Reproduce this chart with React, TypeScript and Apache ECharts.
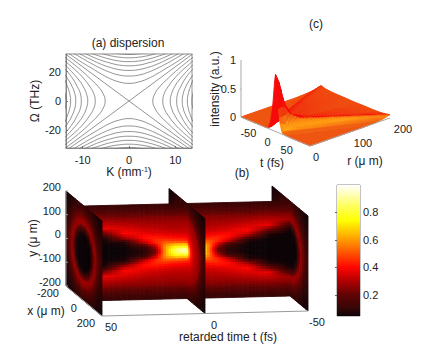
import React, { useEffect, useRef } from "react";
import * as echarts from "echarts";

const FONT = "'Liberation Sans', Arial, sans-serif";
const INK = "#222";

// ---- panel (a): dispersion contours
const kSamples = [0, 2, 4, 6, 8, 10, 12, 14];
const omegaBranches = [
  [12, 12.9, 15.1, 18.4, 22.2, 26.0, 30.2, 34.8],
  [17, 17.6, 19.4, 22.1, 25.3, 28.9, 32.6, 36.7],
  [20.8, 21.3, 22.8, 25.0, 27.9, 31.1, 34.6, 38.2],
  [24, 24.4, 25.8, 27.7, 30.2, 33.2, 36.4, 40],
  [26.8, 27.2, 28.4, 30.2, 32.4, 35.3, 38.6, 42],
  [29.4, 29.8, 30.8, 32.5, 34.6, 37.2, 40.4, 44],
  [31.7, 32.1, 33, 34.5, 36.6, 39, 42, 45],
];
const omegaSamples = [0, 5, 10, 15, 20, 25, 30, 35];
const kBranches = [
  [5.15, 5.6, 6.7, 8.3, 10.0, 11.9, 13.9, 15.9],
  [7.3, 7.6, 8.5, 9.7, 11.2, 13, 14.8, 16.7],
  [8.9, 9.2, 9.9, 11, 12.4, 13.9, 15.6, 17.4],
  [10.3, 10.5, 11.2, 12.1, 13.3, 14.8, 16.4, 18],
  [11.5, 11.7, 12.3, 13.2, 14.4, 15.8, 17.2, 18.7],
  [12.6, 12.8, 13.3, 14, 15.3, 16.6, 18, 19.4],
  [13.6, 13.8, 14.3, 15, 16.1, 17.4, 18.7, 20],
];
const separatrixEnd = [14, 32.6];
const aKTicks = [-10, 0, 10];
const aOmegaTicks = [-20, 0, 20];

// ---- panel (c): intensity along the cone r = coneSlope·|t|
// rows: distance s along the ridge; columns: offset q across it.
const coneSlope = 2.22;
const cS = [0, 5, 10, 20, 40, 70, 100, 150, 200];
const cQ = [-60, -30, -15, -8, 0, 8, 15, 30, 60, 100, 150, 200];
const cZ = [
  [1, 1, 1, 1, 1, 1, 1, 1, 1, 1, 1, 1],
  [0.3, 0.3, 0.55, 0.72, 0.82, 0.82, 0.78, 0.7, 0.6, 0.5, 0.4, 0.3],
  [0.1, 0.2, 0.38, 0.5, 0.55, 0.54, 0.52, 0.42, 0.3, 0.22, 0.18, 0.14],
  [0, 0.03, 0.12, 0.22, 0.32, 0.3, 0.27, 0.22, 0.15, 0.1, 0.08, 0.06],
  [0, 0.02, 0.07, 0.12, 0.19, 0.18, 0.16, 0.12, 0.09, 0.06, 0.04, 0.03],
  [0, 0.02, 0.07, 0.11, 0.16, 0.15, 0.14, 0.1, 0.07, 0.05, 0.03, 0.02],
  [0, 0.02, 0.06, 0.1, 0.14, 0.13, 0.11, 0.08, 0.055, 0.04, 0.025, 0.015],
  [0, 0.015, 0.045, 0.07, 0.1, 0.09, 0.075, 0.05, 0.03, 0.02, 0.015, 0.01],
  [0, 0.01, 0.025, 0.04, 0.06, 0.05, 0.04, 0.025, 0.015, 0.01, 0.01, 0.01],
];
const cZTicks = [0, 0.5, 1];
const cTTicks = [-50, 0, 50];
const cRTicks = [0, 100, 200];

// ---- panel (b): field V(|t|, r)
const bT = [0, 5, 10, 15, 20, 30, 40, 50];
const bR = [0, 20, 40, 60, 80, 100, 120, 140, 160, 180, 200, 220, 240, 260, 290];
const bV = [
  [1.0, 0.74, 0.46, 0.38, 0.33, 0.3, 0.28, 0.25, 0.19, 0.14, 0.1, 0.085, 0.07, 0.06, 0.05],
  [0.9, 0.74, 0.48, 0.39, 0.33, 0.3, 0.28, 0.25, 0.19, 0.14, 0.1, 0.085, 0.07, 0.06, 0.05],
  [0.62, 0.62, 0.5, 0.4, 0.34, 0.3, 0.28, 0.25, 0.19, 0.14, 0.1, 0.085, 0.07, 0.06, 0.05],
  [0.2, 0.32, 0.46, 0.42, 0.35, 0.31, 0.28, 0.25, 0.19, 0.14, 0.1, 0.085, 0.07, 0.06, 0.05],
  [0.08, 0.12, 0.36, 0.42, 0.36, 0.32, 0.28, 0.25, 0.19, 0.14, 0.1, 0.085, 0.07, 0.06, 0.05],
  [0.05, 0.05, 0.08, 0.3, 0.4, 0.35, 0.3, 0.25, 0.19, 0.14, 0.1, 0.085, 0.07, 0.06, 0.05],
  [0.04, 0.04, 0.05, 0.07, 0.22, 0.37, 0.32, 0.26, 0.2, 0.14, 0.1, 0.085, 0.07, 0.06, 0.05],
  [0.04, 0.04, 0.04, 0.045, 0.06, 0.15, 0.28, 0.25, 0.19, 0.14, 0.1, 0.085, 0.07, 0.06, 0.05],
];
const bSliceTimes = [50, 0, -50];
const bYTicks = [200, 100, 0, -100, -200];
const bXTicks = [-200, 0, 200];
const bTTicks = [50, 0, -50];

// ---- colour bar
const barTicks = [0.2, 0.4, 0.6, 0.8];
const hotStops: [number, number[]][] = [
  [0.046, [12, 5, 8]],
  [0.1, [52, 6, 6]],
  [0.2, [96, 4, 4]],
  [0.3, [176, 0, 0]],
  [0.4, [255, 5, 0]],
  [0.5, [255, 80, 0]],
  [0.6, [255, 154, 0]],
  [0.74, [255, 255, 0]],
  [0.85, [255, 255, 96]],
  [1, [255, 255, 255]],
];
const surfaceStops: [number, number[]][] = [
  [-1, [246, 10, 10]],
  [0, [238, 86, 18]],
  [0.6, [255, 150, 16]],
  [1, [255, 180, 20]],
];

function ramp(stops: [number, number[]][], v: number) {
  if (v <= stops[0][0]) return rgb(stops[0][1]);
  for (let i = 1; i < stops.length; i++) {
    if (v <= stops[i][0]) {
      const f = (v - stops[i - 1][0]) / (stops[i][0] - stops[i - 1][0]);
      return rgb(stops[i - 1][1].map((c, k) => c + (stops[i][1][k] - c) * f));
    }
  }
  return rgb(stops[stops.length - 1][1]);
}
function rgb(c: number[]) {
  return `rgb(${Math.round(c[0])},${Math.round(c[1])},${Math.round(c[2])})`;
}
function bracket(g: number[], v: number) {
  const x = Math.min(Math.max(v, g[0]), g[g.length - 1]);
  let i = 0;
  while (i < g.length - 2 && x > g[i + 1]) i++;
  return [i, (x - g[i]) / (g[i + 1] - g[i])];
}
// Gouraud-style shading of a table, as MATLAB's "shading interp" does.
function shade(rows: number[], cols: number[], m: number[][], a0: number, b0: number) {
  const [i, a] = bracket(rows, a0);
  const [j, b] = bracket(cols, b0);
  return (
    m[i][j] * (1 - a) * (1 - b) +
    m[i + 1][j] * a * (1 - b) +
    m[i][j + 1] * (1 - a) * b +
    m[i + 1][j + 1] * a * b
  );
}
const intensity = (t: number, r: number) => {
  const R = coneSlope * Math.abs(t);
  return shade(cS, cQ, cZ, (r + R) / 2, r - R);
};
const field = (t: number, r: number) => shade(bT, bR, bV, Math.abs(t), r);

// Oblique views: each panel's hidden axes hold these projected units.
const pb = (t: number, x: number, y: number) => [-t + 0.0437 * x, y - 0.2105 * t - 0.3158 * x];
const pc = (t: number, r: number, z: number) => [
  t + 1.0436 * r,
  z - 0.002826 * t + 0.002456 * r,
];

function range(a: number, b: number, n: number) {
  const out: number[] = [];
  for (let i = 0; i <= n; i++) out.push(a + ((b - a) * i) / n);
  return out;
}

function quadSeries(grid: number, quads: any[], project: any, color: any) {
  return {
    type: "custom",
    xAxisIndex: grid,
    yAxisIndex: grid,
    silent: true,
    clip: false,
    data: quads.map((_, i) => [i, 0]),
    renderItem: (p: any, api: any) => {
      const q = quads[p.dataIndex];
      const fill = color(q);
      return {
        type: "polygon",
        shape: { points: q.corners.map((c: number[]) => api.coord(project(c))) },
        style: { fill, stroke: fill, lineWidth: 0.9 },
      };
    },
  };
}

function lineSeries(grid: number, pts: number[][], color = "#9a9a9a", width = 1) {
  return {
    type: "line",
    xAxisIndex: grid,
    yAxisIndex: grid,
    silent: true,
    symbol: "none",
    data: pts,
    lineStyle: { color, width },
  };
}

function labelSeries(grid: number, pts: number[][], texts: string[], dx: number, dy: number, align = "center") {
  return {
    type: "custom",
    xAxisIndex: grid,
    yAxisIndex: grid,
    silent: true,
    clip: false,
    z: 10,
    data: pts.map((_, i) => [i, 0]),
    renderItem: (p: any, api: any) => {
      const c = api.coord(pts[p.dataIndex]);
      return {
        type: "text",
        style: {
          text: texts[p.dataIndex],
          x: c[0] + dx,
          y: c[1] + dy,
          fill: INK,
          fontSize: 11,
          fontFamily: FONT,
          align,
          verticalAlign: "middle",
        },
      };
    },
  };
}

function contourSeries() {
  const out: any[] = [];
  const line = (data: number[][], smooth = true) => ({
    type: "line",
    xAxisIndex: 0,
    yAxisIndex: 0,
    silent: true,
    symbol: "none",
    clip: true,
    smooth,
    lineStyle: { color: "#666", width: 0.7 },
    data,
  });
  for (const row of omegaBranches) {
    for (const sign of [1, -1]) {
      const right = kSamples.map((k, i) => [k, sign * row[i]]);
      const left = kSamples.slice(1).map((k, i) => [-k, sign * row[i + 1]]).reverse();
      out.push(line([...left, ...right]));
    }
  }
  for (const row of kBranches) {
    for (const sign of [1, -1]) {
      const upper = omegaSamples.map((w, i) => [sign * row[i], w]);
      const lower = omegaSamples.slice(1).map((w, i) => [sign * row[i + 1], -w]).reverse();
      out.push(line([...lower, ...upper]));
    }
  }
  const [ek, ew] = separatrixEnd;
  out.push(line([[-ek, -ew], [ek, ew]], false));
  out.push(line([[-ek, ew], [ek, -ew]], false));
  return out;
}

function surfaceC() {
  const ts = range(-90, 90, 72);
  const rs = range(200, 0, 46);
  const quads: any[] = [];
  ts.slice(0, -1).forEach((t0, i) => {
    rs.slice(0, -1).forEach((r0, j) => {
      const t1 = ts[i + 1];
      const r1 = rs[j + 1];
      quads.push({
        corners: [
          [t0, r0, intensity(t0, r0)],
          [t1, r0, intensity(t1, r0)],
          [t1, r1, intensity(t1, r1)],
          [t0, r1, intensity(t0, r1)],
        ],
        t: (t0 + t1) / 2,
        r: (r0 + r1) / 2,
      });
    });
  });
  const color = (q: any) => {
    const dt = (intensity(q.t + 2, q.r) - intensity(q.t - 2, q.r)) / 4;
    const dr = (intensity(q.t, q.r + 4) - intensity(q.t, q.r - 4)) / 8;
    let s = 60 * -dt + 80 * dr;
    s = s < 0 ? s * 2 : Math.min(s, 1);
    s -= 4 * intensity(q.t, q.r);
    return ramp(surfaceStops, Math.max(-1, Math.min(1, s)));
  };
  return quadSeries(1, quads, (c: number[]) => pc(c[0], c[1], c[2]), color);
}

function planeB() {
  const ts = range(50, -50, 80);
  const ys = range(200, -200, 38);
  const quads: any[] = [];
  ts.slice(0, -1).forEach((t0, i) => {
    ys.slice(0, -1).forEach((y0, j) => {
      const t1 = ts[i + 1];
      const y1 = ys[j + 1];
      quads.push({
        corners: [[t0, 0, y0], [t1, 0, y0], [t1, 0, y1], [t0, 0, y1]],
        v: field((t0 + t1) / 2, Math.abs((y0 + y1) / 2)),
      });
    });
  });
  return quadSeries(2, quads, (c: number[]) => pb(c[0], c[1], c[2]), (q: any) => ramp(hotStops, q.v));
}

function sliceB(t: number, x0: number, x1: number) {
  const xs = range(x0, x1, 10);
  const ys = range(200, -200, 48);
  const quads: any[] = [];
  xs.slice(0, -1).forEach((a, i) => {
    ys.slice(0, -1).forEach((y0, j) => {
      const b = xs[i + 1];
      const y1 = ys[j + 1];
      const r = Math.hypot((a + b) / 2, (y0 + y1) / 2);
      quads.push({
        corners: [[t, a, y0], [t, b, y0], [t, b, y1], [t, a, y1]],
        v: field(t, r),
      });
    });
  });
  return quadSeries(2, quads, (c: number[]) => pb(c[0], c[1], c[2]), (q: any) => ramp(hotStops, q.v));
}

function colorBar() {
  const lo = hotStops[0][0];
  const hi = hotStops[hotStops.length - 1][0];
  return {
    type: "custom",
    xAxisIndex: 3,
    yAxisIndex: 3,
    silent: true,
    data: [[0, lo]],
    renderItem: (_: any, api: any) => {
      const a = api.coord([0, lo]);
      const b = api.coord([1, hi]);
      return {
        type: "rect",
        shape: { x: a[0], y: b[1], width: b[0] - a[0], height: a[1] - b[1] },
        style: {
          fill: new echarts.graphic.LinearGradient(
            0, 1, 0, 0,
            hotStops.map(([v, c]) => ({ offset: (v - lo) / (hi - lo), color: rgb(c) })),
          ),
        },
      };
    },
  };
}

const hidden = (min: number, max: number, gridIndex: number, inverse = false) => ({
  type: "value",
  gridIndex,
  min,
  max,
  inverse,
  show: false,
  splitLine: { show: false },
});

function name(text: string, x: number, y: number, rotation = 0, fontSize = 12) {
  return {
    type: "text",
    x,
    y,
    rotation,
    silent: true,
    style: { text, fontSize, fontFamily: FONT, fill: INK, align: "center", verticalAlign: "middle" },
  };
}

function buildOption() {
  const axisA = (axis: string, min: number, max: number, ticks: number[], nm: string, gap: number) => ({
    type: "value",
    gridIndex: 0,
    min,
    max,
    name: nm,
    nameLocation: "middle",
    nameGap: gap,
    nameTextStyle: {
      fontSize: 12,
      fontFamily: FONT,
      color: INK,
      rich: { sup: { fontSize: 7, fontFamily: FONT, color: INK, verticalAlign: "top", lineHeight: 12 } },
    },
    splitLine: { show: false },
    axisLine: { show: true, onZero: false, lineStyle: { color: "#777", width: 0.8 } },
    axisTick: { show: true, inside: true, length: 2, customValues: ticks, lineStyle: { color: "#777" } },
    axisLabel: { show: true, customValues: ticks, fontSize: 11, fontFamily: FONT, color: INK, margin: axis === "x" ? 6 : 5 },
  });

  const series: any[] = [
    ...contourSeries(),
    // panel (c)
    lineSeries(1, [pc(-90, 0, 1), pc(-90, 0, 0), pc(90, 0, 0), pc(90, 200, 0)], "#a8a8a8"),
    lineSeries(1, [pc(-90, 0, 0.5), pc(-87, -5, 0.5)], "#a8a8a8"),
    surfaceC(),
    labelSeries(1, cZTicks.map((z) => pc(-90, 0, z)), cZTicks.map(String), -5, 0, "right"),
    labelSeries(1, cTTicks.map((t) => pc(t, 0, 0)), cTTicks.map(String), -8, 10),
    labelSeries(1, cRTicks.slice(0, 1).map((r) => pc(90, r, 0)), cRTicks.slice(0, 1).map(String), 6, 11),
    labelSeries(1, cRTicks.slice(1).map((r) => pc(90, r, 0)), cRTicks.slice(1).map(String), 13, 11),
    // panel (b)
    lineSeries(2, [pb(50, -200, 200), pb(50, -200, -200), pb(50, 200, -200), pb(-50, 200, -200)]),
    ...bYTicks.map((y) => lineSeries(2, [pb(50, -200, y), pb(49, -200, y)])),
    ...bSliceTimes.map((t) => sliceB(t, -200, 0)),
    planeB(),
    ...bSliceTimes.map((t) => sliceB(t, 0, 200)),
    labelSeries(2, bYTicks.map((y) => pb(50, -200, y)), bYTicks.map(String), -5, -4, "right"),
    labelSeries(2, bXTicks.map((x) => pb(50, x, -200)), bXTicks.map(String), -7, 7, "right"),
    labelSeries(2, bTTicks.map((t) => pb(t, 200, -200)), bTTicks.map(String), 9, 11),
    colorBar(),
  ];

  return {
    animation: false,
    backgroundColor: "#fff",
    textStyle: { fontFamily: FONT },
    grid: [
      { left: 66, top: 54, width: 126, height: 94, show: true, borderColor: "#777", borderWidth: 0.8, containLabel: false },
      { left: 230, top: 55, width: 170, height: 100 },
      { left: 60, top: 180, width: 260, height: 150 },
      { left: 337, top: 185, width: 23, height: 131, show: true, borderColor: "#888", borderWidth: 1 },
    ],
    xAxis: [
      axisA("x", -13.6, 13.6, aKTicks, "K (mm{sup|-1})", 16),
      hidden(-118.7, 324.8, 1),
      hidden(-61.65, 64.56, 2),
      hidden(0, 1, 3),
    ],
    yAxis: [
      axisA("y", -32, 32, aOmegaTicks, "Ω (THz)", 24),
      hidden(-0.412, 1.342, 1),
      hidden(-332.6, 298.9, 2),
      {
        type: "value",
        gridIndex: 3,
        min: hotStops[0][0],
        max: 1,
        position: "right",
        splitLine: { show: false },
        axisLine: { show: false },
        axisTick: { show: true, inside: true, length: 2, customValues: barTicks, lineStyle: { color: "#666" } },
        axisLabel: {
          show: true,
          customValues: barTicks,
          fontSize: 11,
          fontFamily: FONT,
          color: INK,
          margin: 3,
          formatter: (v: number) => v.toFixed(1),
        },
      },
    ],
    graphic: [
      name("(a) dispersion", 128, 43),
      name("(c)", 316, 24),
      name("(b)", 242, 173),
      name("intensity (a.u.)", 215, 89, Math.PI / 2),
      name("t (fs)", 272, 163),
      name("r (μ m)", 365, 161),
      name("y (μ m)", 33, 238, Math.PI / 2),
      name("x (μ m)", 46, 311),
      name("retarded time t (fs)", 228, 337),
    ],
    series,
  };
}

export default function App() {
  const ref = useRef<HTMLDivElement>(null);
  useEffect(() => {
    const chart = echarts.init(ref.current!, undefined, { renderer: "svg" });
    chart.setOption(buildOption() as any);
    return () => chart.dispose();
  }, []);
  return <div ref={ref} style={{ width: 436, height: 356, position: "fixed", left: 0, top: 0 }} />;
}
